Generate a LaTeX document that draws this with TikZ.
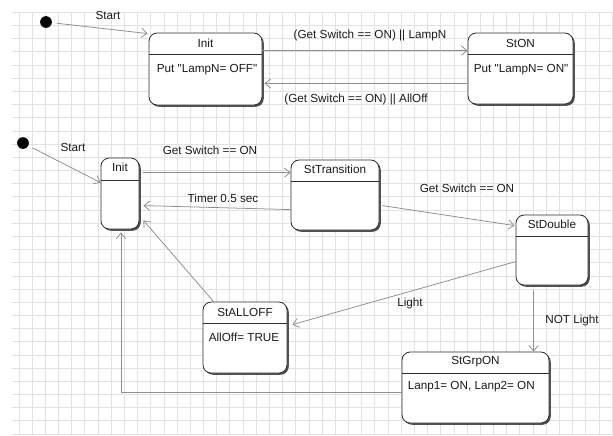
\documentclass[tikz,border=0pt]{standalone}
\usepackage{fontspec}
\setmainfont{Liberation Sans}[Ligatures=TeXOff]
\usetikzlibrary{arrows.meta, calc, shadows}
\definecolor{GridGray}{HTML}{E2E2E2}
\definecolor{BoxBorder}{HTML}{2E2E2E}
\definecolor{ArrowGray}{HTML}{8E8E8E}
\definecolor{TextBlack}{HTML}{1A1A1A}
\tikzset{
  gridline/.style={draw=GridGray, line width=0.7pt},
  statebox/.style={draw=BoxBorder, line width=0.7pt, rounded corners=7pt, fill=white, inner sep=0pt,
    drop shadow={shadow xshift=1.5pt, shadow yshift=-1.5pt, opacity=0.8, fill=black!85}},
  sepline/.style={draw=BoxBorder, line width=0.7pt},
  startdot/.style={circle, fill=black, minimum size=10pt, inner sep=0pt},
  titletext/.style={font=\fontsize{10}{12}\selectfont, text=TextBlack, inner sep=0pt},
  bodytext/.style={anchor=west, font=\fontsize{10}{12}\selectfont, text=TextBlack, inner sep=0pt},
  lbl/.style={font=\fontsize{10}{12}\selectfont, text=TextBlack, inner sep=0pt},
  trans/.style={-{Straight Barb[length=1.7mm, width=2.8mm]}, draw=ArrowGray, line width=0.65pt}
}

\begin{document}
\begin{tikzpicture}[x=0.03cm, y=-0.03cm]
\useasboundingbox (0,0) rectangle (613,435);
\draw[gridline, shift={(5.82,12.3)}] (6.18,0) grid[step=0.3954cm] (607.18,422.7);

% upper machine
\node[startdot] (start1) at (46,22) {};
\node[statebox, minimum width=3.39cm, minimum height=2.16cm] (init1) at (205.5,69) {};
\node[titletext] (init1t) at ($(init1.north)+(0,11)$) {Init};
\draw[sepline] ($(init1.north west)+(0,22)$) -- ($(init1.north east)+(0,22)$);
\node[bodytext] (init1b) at ($(init1.north west)+(8,37)$) {Put "LampN= OFF"};

\node[statebox, minimum width=3.15cm, minimum height=2.13cm] (ston) at (520.5,68.5) {};
\node[titletext] (stont) at ($(ston.north)+(0,11)$) {StON};
\draw[sepline] ($(ston.north west)+(0,22)$) -- ($(ston.north east)+(0,22)$);
\node[bodytext] (stonb) at ($(ston.north west)+(6,37)$) {Put "LampN= ON"};

\draw[trans, shorten <=4pt] (start1) -- ($(init1.north west)+(-1,1)$);
\node[lbl] (lblStart1) at (108,15) {Start};
\draw[trans] ($(init1.north east)+(0,18)$) -- ($(ston.north west)+(0,18)$);
\node[lbl] (lblLampN) at (370,35) {(Get Switch == ON) || LampN};
\draw[trans] ($(ston.north west)+(0,51)$) -- ($(init1.north east)+(2,51)$);
\node[lbl] (lblAllOff) at (356,99) {(Get Switch == ON) || AllOff};

% lower machine
\node[startdot] (start2) at (23,143) {};
\node[statebox, minimum width=1.14cm, minimum height=2.13cm] (init2) at (120,193.5) {};
\node[titletext] (init2t) at ($(init2.north)+(0,10)$) {Init};
\draw[sepline] ($(init2.north west)+(0,23)$) -- ($(init2.north east)+(0,23)$);

\node[statebox, minimum width=2.64cm, minimum height=2.10cm] (sttrans) at (335,195) {};
\node[titletext] (sttranst) at ($(sttrans.north)+(0,10)$) {StTransition};
\draw[sepline] ($(sttrans.north west)+(0,22)$) -- ($(sttrans.north east)+(0,22)$);

\node[statebox, minimum width=2.16cm, minimum height=2.10cm] (stdouble) at (552,250) {};
\node[titletext] (stdoublet) at ($(stdouble.north)+(0,10)$) {StDouble};
\draw[sepline] ($(stdouble.north west)+(0,22)$) -- ($(stdouble.north east)+(0,22)$);

\node[statebox, minimum width=2.52cm, minimum height=2.13cm] (stalloff) at (245,337.5) {};
\node[titletext] (stallofft) at ($(stalloff.north)+(0,11)$) {StALLOFF};
\draw[sepline] ($(stalloff.north west)+(0,22)$) -- ($(stalloff.north east)+(0,22)$);
\node[bodytext] (stalloffb) at ($(stalloff.north west)+(6,36)$) {AllOff= TRUE};

\node[statebox, minimum width=4.41cm, minimum height=2.13cm] (stgrpon) at (475.5,387.5) {};
\node[titletext] (stgrpont) at ($(stgrpon.north)+(0,10)$) {StGrpON};
\draw[sepline] ($(stgrpon.north west)+(0,22)$) -- ($(stgrpon.north east)+(0,22)$);
\node[bodytext] (stgrponb) at ($(stgrpon.north west)+(6,35)$) {Lanp1= ON, Lanp2= ON};

\draw[trans, shorten <=4pt] (start2) -- ($(init2.north west)+(0,25)$);
\node[lbl] (lblStart2) at (73,147) {Start};
\draw[trans] ($(init2.north east)+(4,15)$) -- ($(sttrans.north west)+(0,13)$);
\node[lbl] (lblGetSw1) at (210,150) {Get Switch == ON};
\draw[trans] ($(sttrans.north west)+(0,50)$) -- ($(init2.north east)+(4,48)$);
\node[lbl] (lblTimer) at (223,198) {Timer 0.5 sec};
\draw[trans] ($(sttrans.north east)+(3,46)$) -- ($(stdouble.north west)+(-1,11)$);
\node[lbl] (lblGetSw2) at (467,188) {Get Switch == ON};
\draw[trans] ($(stdouble.north west)+(0,47)$) -- ($(stalloff.north east)+(5,23)$);
\node[lbl] (lblLight) at (410,303) {Light};
\draw[trans] ($(stdouble.south west)+(18,5)$) -- ($(stgrpon.north west)+(132,0)$);
\node[lbl] (lblNotLight) at (572,320) {NOT Light};
\draw[trans] ($(stalloff.north west)+(11,0)$) -- ($(init2.south east)+(4,-9)$);
\draw[trans] ($(stgrpon.north west)+(0,41)$) -| ($(init2.south)+(1,3)$);
\end{tikzpicture}
\end{document}
